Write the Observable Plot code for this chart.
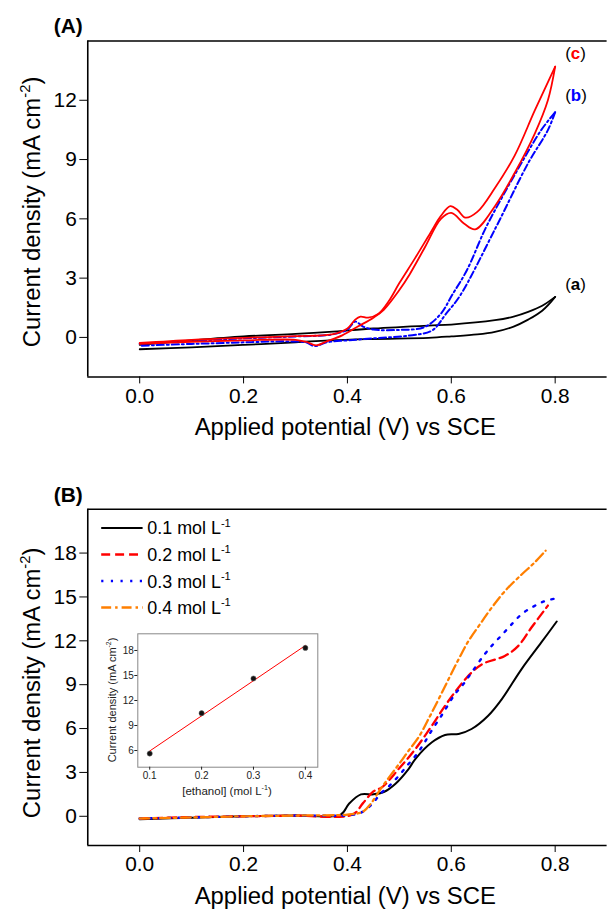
<!DOCTYPE html>
<html><head><meta charset="utf-8">
<script src="https://cdn.jsdelivr.net/npm/d3@7"></script>
<script src="https://cdn.jsdelivr.net/npm/@observablehq/plot@0.6"></script>
<style>
body{margin:0;background:#fff;}
#wrap{position:relative;width:607px;height:909px;overflow:hidden;background:#fff;}
</style></head><body><div id="wrap"></div>
<script>
const FONT = '"Liberation Sans", Arial, Helvetica, sans-serif';

// ---------- Panel A data (cyclic voltammograms) ----------
const potTicks = [0, 0.2, 0.4, 0.6, 0.8];
const aTicksY = [0, 3, 6, 9, 12];
const bTicksY = [0, 3, 6, 9, 12, 15, 18];

// (a) black, forward and reverse
const aFwdV = [0, 0.1, 0.2, 0.3, 0.365, 0.45, 0.556, 0.6, 0.65, 0.684, 0.72, 0.748, 0.775, 0.8];
const aFwdJ = [-0.6, -0.5, -0.38, -0.25, -0.15, -0.08, -0.02, 0.05, 0.15, 0.28, 0.55, 0.9, 1.35, 2.05];
const aRevV = [0.8, 0.775, 0.748, 0.72, 0.684, 0.6, 0.556, 0.45, 0.365, 0.3, 0.2, 0.1, 0];
const aRevJ = [2.05, 1.6, 1.29, 1.05, 0.87, 0.65, 0.6, 0.45, 0.28, 0.18, 0.05, -0.15, -0.38];
// (b) blue, forward and reverse
const bFwdV = [0, 0.1, 0.2, 0.3, 0.37, 0.4, 0.415, 0.43, 0.45, 0.5, 0.548, 0.58, 0.601, 0.63, 0.665, 0.7, 0.735, 0.773, 0.8];
const bFwdJ = [-0.32, -0.18, -0.05, 0.05, 0.15, 0.4, 0.8, 0.55, 0.4, 0.38, 0.52, 1.2, 2.12, 3.4, 5.47, 7.2, 8.82, 10.49, 11.4];
const bRevV = [0.8, 0.786, 0.748, 0.684, 0.617, 0.59, 0.563, 0.52, 0.45, 0.4, 0.36, 0.337, 0.32, 0.28, 0.2, 0.1, 0];
const bRevJ = [11.4, 10.49, 8.82, 5.47, 2.12, 1.2, 0.35, 0.1, -0.05, -0.15, -0.25, -0.44, -0.25, -0.2, -0.25, -0.33, -0.42];
// (c) red, forward and reverse
const cFwdV = [0, 0.1, 0.2, 0.3, 0.37, 0.4, 0.415, 0.425, 0.44, 0.46, 0.48, 0.5, 0.53, 0.56, 0.58, 0.598, 0.612, 0.627, 0.65, 0.684, 0.722, 0.761, 0.8];
const cFwdJ = [-0.28, -0.12, -0.02, 0.06, 0.15, 0.45, 0.9, 1.05, 1.0, 1.2, 1.85, 2.75, 4.0, 5.3, 6.15, 6.64, 6.45, 6.06, 6.35, 7.56, 9.2, 11.5, 13.7];
const cRevV = [0.8, 0.786, 0.761, 0.722, 0.684, 0.646, 0.625, 0.6, 0.58, 0.55, 0.52, 0.5, 0.47, 0.45, 0.42, 0.39, 0.36, 0.34, 0.32, 0.3, 0.2, 0.1, 0];
const cRevJ = [13.7, 12.0, 10.33, 8.32, 6.64, 5.47, 5.75, 6.3, 6.0, 4.6, 3.2, 2.4, 1.4, 1.0, 0.55, 0.1, -0.2, -0.4, -0.22, -0.12, -0.15, -0.22, -0.32];

// ---------- Panel B data (linear sweeps at several ethanol concentrations) ----------
const c01V = [0, 0.1, 0.2, 0.3, 0.387, 0.403, 0.426, 0.45, 0.47, 0.4926, 0.518, 0.531, 0.5627, 0.588, 0.614, 0.639, 0.671, 0.697, 0.735, 0.773, 0.803];
const c01J = [-0.2, -0.1, 0.0, 0.05, 0.12, 0.86, 1.5, 1.5, 1.66, 2.23, 3.25, 3.93, 5.06, 5.56, 5.63, 5.97, 6.88, 8.0, 10.05, 11.87, 13.32];
const c02V = [0, 0.1, 0.2, 0.3, 0.41, 0.43, 0.45, 0.467, 0.499, 0.531, 0.5627, 0.588, 0.614, 0.639, 0.6616, 0.703, 0.7286, 0.754, 0.786];
const c02J = [-0.15, -0.05, 0.0, 0.05, 0.12, 0.9, 1.7, 2.0, 3.25, 4.61, 6.2, 7.56, 8.81, 9.83, 10.44, 10.96, 11.64, 12.89, 14.41];
const c03V = [0, 0.1, 0.2, 0.3, 0.41, 0.429, 0.448, 0.464, 0.483, 0.502, 0.518, 0.534, 0.547, 0.56, 0.583, 0.607, 0.623, 0.639, 0.665, 0.682, 0.7, 0.7178, 0.736, 0.757, 0.776, 0.797];
const c03J = [-0.15, -0.08, 0.0, 0.05, 0.1, 0.3, 0.86, 1.55, 2.16, 2.9, 3.59, 4.27, 4.95, 5.74, 6.99, 8.35, 9.03, 9.83, 11.12, 11.82, 12.5, 13.19, 13.84, 14.32, 14.66, 14.87];
const c04V = [0, 0.1, 0.2, 0.3, 0.4, 0.429, 0.445, 0.464, 0.483, 0.502, 0.518, 0.537, 0.556, 0.5755, 0.5947, 0.614, 0.633, 0.655, 0.6775, 0.703, 0.735, 0.7606, 0.7816];
const c04J = [-0.15, -0.08, 0.0, 0.05, 0.12, 0.3, 0.86, 1.88, 2.8, 3.7, 4.5, 5.4, 6.65, 8.0, 9.37, 10.73, 11.98, 13.12, 14.25, 15.39, 16.52, 17.36, 18.16];
const legendLabels = ["0.1 mol L", "0.2 mol L", "0.3 mol L", "0.4 mol L"];

// ---------- Inset data ----------
const insetConc = [0.1, 0.2, 0.3, 0.4];
const insetJ = [5.64, 10.48, 14.64, 18.31];
const insetTicksX = [0.1, 0.2, 0.3, 0.4];
const insetTicksY = [6, 9, 12, 15, 18];

// ---------- styles ----------
const BLACK = "#000", RED = "#ff0000", BLUE = "#0000ff", ORANGE = "#ff7f00";
const wrap = document.getElementById("wrap");
const fmt1 = d3.format(".1f");

function addText(svg, x, y, parts, o = {}) {
  const s = o.size || 20;
  const t = d3.select(svg).append("text")
    .attr("font-size", s).attr("font-family", FONT)
    .attr("text-anchor", o.anchor || "start").attr("fill", o.fill || "#000");
  if (o.rotate) t.attr("transform", `translate(${x},${y}) rotate(${o.rotate})`);
  else t.attr("x", x).attr("y", y);
  if (o.weight) t.attr("font-weight", o.weight);
  let shift = 0;
  for (const p of parts) {
    const [str, po = {}] = typeof p === "string" ? [p, {}] : p;
    const ts = t.append("tspan").text(str);
    if (po.fill) ts.attr("fill", po.fill);
    if (po.weight) ts.attr("font-weight", po.weight);
    if (po.sup) { ts.attr("font-size", s * 0.62).attr("dy", -s * 0.42 - shift); shift = -s * 0.42; }
    else if (shift) { ts.attr("dy", -shift); shift = 0; }
  }
  return t;
}

function frameRules(xd, yd) {
  return [
    Plot.ruleY([yd[0]], {strokeWidth: 1.6}),
    Plot.ruleY([yd[1]], {strokeWidth: 1.6}),
    Plot.ruleX([xd[0]], {strokeWidth: 1.6})
  ];
}

// ---------- Panel A ----------
const xdA = [-0.1, 0.9], ydA = [-2, 15];
const lw = 1.8;
const panelA = Plot.plot({
  width: 610, height: 450,
  marginLeft: 87.7, marginRight: 0.4, marginTop: 40.7, marginBottom: 71.7,
  x: {domain: xdA}, y: {domain: ydA},
  style: {position: "absolute", left: "0px", top: "0px", fontFamily: FONT, fontSize: "21px", background: "transparent", overflow: "visible"},
  marks: [
    Plot.axisX({ticks: potTicks, tickFormat: fmt1, tickSize: 7, tickPadding: 4, label: null}),
    Plot.axisY({ticks: aTicksY, tickSize: 8, tickPadding: 3, label: null}),
    Plot.line(aFwdJ, {x: aFwdV, y: aFwdJ, stroke: BLACK, strokeWidth: lw, curve: "catmull-rom"}),
    Plot.line(aRevJ, {x: aRevV, y: aRevJ, stroke: BLACK, strokeWidth: lw, curve: "catmull-rom"}),
    Plot.line(bFwdJ, {x: bFwdV, y: bFwdJ, stroke: BLUE, strokeWidth: 2, strokeDasharray: "7,3,2,3", curve: "catmull-rom"}),
    Plot.line(bRevJ, {x: bRevV, y: bRevJ, stroke: BLUE, strokeWidth: 2, strokeDasharray: "7,3,2,3", curve: "catmull-rom"}),
    Plot.line(cFwdJ, {x: cFwdV, y: cFwdJ, stroke: RED, strokeWidth: lw, curve: "catmull-rom"}),
    Plot.line(cRevJ, {x: cRevV, y: cRevJ, stroke: RED, strokeWidth: lw, curve: "catmull-rom"}),
    ...frameRules(xdA, ydA)
  ]
});
wrap.appendChild(panelA);
addText(panelA, 54, 33, ["(A)"], {size: 21, weight: "bold"});
addText(panelA, 40, 213, ["Current density (mA cm", ["-2", {sup: true}], ")"], {size: 24, anchor: "middle", rotate: -90});
addText(panelA, 347, 437, ["Applied potential (V) vs SCE"], {size: 24, anchor: "middle"});
addText(panelA, 568, 59, ["(", ["c", {fill: RED, weight: "bold"}], ")"], {size: 17});
addText(panelA, 568, 102, ["(", ["b", {fill: BLUE, weight: "bold"}], ")"], {size: 17});
addText(panelA, 568, 291, ["(", ["a", {weight: "bold"}], ")"], {size: 17});

// ---------- Panel B ----------
const xdB = [-0.1, 0.9], ydB = [-2, 21];
const TOPB = 450;
const series = [
  {V: c01V, J: c01J, stroke: BLACK, dash: null, w: 2},
  {V: c02V, J: c02J, stroke: RED, dash: "9,5", w: 2.3},
  {V: c03V, J: c03J, stroke: BLUE, dash: "2.2,7.5", w: 2.4},
  {V: c04V, J: c04J, stroke: ORANGE, dash: "10,4,2.5,4", w: 2.3}
];
const panelB = Plot.plot({
  width: 610, height: 459,
  marginLeft: 87.7, marginRight: 0.4, marginTop: 59, marginBottom: 62,
  x: {domain: xdB}, y: {domain: ydB},
  style: {position: "absolute", left: "0px", top: TOPB + "px", fontFamily: FONT, fontSize: "21px", background: "transparent", overflow: "visible"},
  marks: [
    Plot.axisX({ticks: potTicks, tickFormat: fmt1, tickSize: 7, tickPadding: 4, label: null}),
    Plot.axisY({ticks: bTicksY, tickSize: 8, tickPadding: 3, label: null}),
    ...series.map(s => Plot.line(s.J, {x: s.V, y: s.J, stroke: s.stroke, strokeWidth: s.w, strokeDasharray: s.dash, curve: "catmull-rom"})),
    ...frameRules(xdB, ydB)
  ]
});
wrap.appendChild(panelB);
addText(panelB, 54, 502 - TOPB, ["(B)"], {size: 21, weight: "bold"});
addText(panelB, 40, 684 - TOPB, ["Current density (mA cm", ["-2", {sup: true}], ")"], {size: 24, anchor: "middle", rotate: -90});
addText(panelB, 347, 906 - TOPB, ["Applied potential (V) vs SCE"], {size: 24, anchor: "middle"});
// legend
const legY = [528.3, 555, 581.7, 608.3];
series.forEach((s, i) => {
  const y = legY[i] - TOPB;
  d3.select(panelB).append("line").attr("x1", 101.7).attr("x2", 143.3).attr("y1", y).attr("y2", y)
    .attr("stroke", s.stroke).attr("stroke-width", s.w).attr("stroke-dasharray", s.dash);
  addText(panelB, 148, y + 6.5, [legendLabels[i], ["-1", {sup: true}]], {size: 18});
});

// ---------- Inset ----------
const inset = Plot.plot({
  width: 230, height: 185,
  marginLeft: 42.3, marginRight: 7.7, marginTop: 13.3, marginBottom: 38.3,
  x: {domain: [0.077, 0.424]}, y: {domain: [4, 20]},
  style: {position: "absolute", left: "95px", top: "620px", fontFamily: FONT, fontSize: "10px", background: "transparent", overflow: "visible", color: "#222"},
  marks: [
    Plot.frame({stroke: "#888", strokeWidth: 1}),
    Plot.axisX({ticks: insetTicksX, tickFormat: fmt1, tickSize: 3, tickPadding: 2, label: null}),
    Plot.axisY({ticks: insetTicksY, tickSize: 3, tickPadding: 1, label: null}),
    Plot.linearRegressionY(insetJ, {x: insetConc, y: insetJ, stroke: RED, strokeWidth: 1, ci: 0}),
    Plot.dot(insetJ, {x: insetConc, y: insetJ, r: 2.6, fill: "#111", stroke: "#666", strokeWidth: 0.5})
  ]
});
wrap.appendChild(inset);
addText(inset, 116 - 95, 700 - 620, ["Current density (mA cm", ["-2", {sup: true}], ")"], {size: 11, anchor: "middle", rotate: -90, fill: "#222"});
addText(inset, 227 - 95, 795 - 620, ["[ethanol] (mol L", ["-1", {sup: true}], ")"], {size: 11.5, anchor: "middle", fill: "#222"});
</script></body></html>
